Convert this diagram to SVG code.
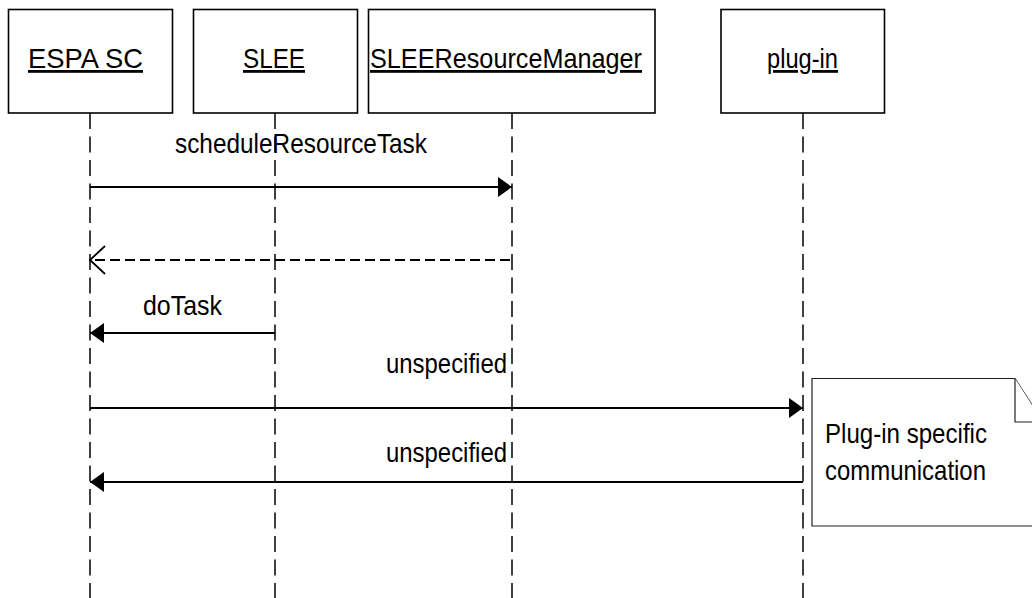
<svg xmlns="http://www.w3.org/2000/svg" width="1032" height="598" viewBox="0 0 1032 598">
<style>
.box{fill:#fff;stroke:#000;stroke-width:1.6}
.life{stroke:#000;stroke-width:1.5;stroke-dasharray:16 7.5;fill:none}
.msg{stroke:#000;stroke-width:2;fill:none}
.ret{stroke:#000;stroke-width:1.8;fill:none;stroke-dasharray:10 5}
.t{font-family:"Liberation Sans Narrow","Liberation Sans",Arial,sans-serif;font-size:28px;fill:#000}
.u{text-decoration:underline}
.note{fill:#fff;stroke:#222;stroke-width:1.2}
</style>
<defs>
<marker id="fill" markerUnits="userSpaceOnUse" markerWidth="16" markerHeight="22" refX="14" refY="10" orient="auto" overflow="visible">
<path d="M0,0 L14,10 L0,20 z" fill="#000"/>
</marker>
<marker id="open" markerUnits="userSpaceOnUse" markerWidth="18" markerHeight="32" refX="15" refY="14" orient="auto" overflow="visible">
<path d="M0,0 L15,14 L0,28" fill="none" stroke="#000" stroke-width="1.8"/>
</marker>
</defs>
<g id="lifelines">
<line class="life" x1="90" y1="113" x2="90" y2="598"/>
<line class="life" x1="275" y1="113" x2="275" y2="598"/>
<line class="life" x1="512" y1="113" x2="512" y2="598"/>
<line class="life" x1="803" y1="113" x2="803" y2="598"/>
</g>
<g id="node-espa">
<rect class="box" x="8.5" y="9.5" width="164" height="103.5"/>
<text class="t u" x="28" y="68" textLength="115" lengthAdjust="spacingAndGlyphs">ESPA SC</text>
</g>
<g id="node-slee">
<rect class="box" x="193.5" y="9.5" width="164" height="103.5"/>
<text class="t u" x="243" y="68" textLength="62" lengthAdjust="spacingAndGlyphs">SLEE</text>
</g>
<g id="node-srm">
<rect class="box" x="368.5" y="9.5" width="286.5" height="103.5"/>
<text class="t u" x="370" y="68" textLength="272" lengthAdjust="spacingAndGlyphs">SLEEResourceManager</text>
</g>
<g id="node-plugin">
<rect class="box" x="721" y="9.5" width="163.5" height="103.5"/>
<text class="t u" x="767" y="68" textLength="71" lengthAdjust="spacingAndGlyphs">plug-in</text>
</g>
<g id="connectors">
<line class="msg" x1="90" y1="187" x2="512" y2="187" marker-end="url(#fill)"/>
<text class="t" x="175" y="153" textLength="252" lengthAdjust="spacingAndGlyphs">scheduleResourceTask</text>
<line class="ret" x1="510" y1="260" x2="90" y2="260" marker-end="url(#open)"/>
<line class="msg" x1="275" y1="333" x2="90" y2="333" marker-end="url(#fill)"/>
<text class="t" x="143" y="315" textLength="79" lengthAdjust="spacingAndGlyphs">doTask</text>
<line class="msg" x1="90" y1="408" x2="803" y2="408" marker-end="url(#fill)"/>
<text class="t" x="386" y="373" textLength="121" lengthAdjust="spacingAndGlyphs">unspecified</text>
<line class="msg" x1="803" y1="482" x2="90" y2="482" marker-end="url(#fill)"/>
<text class="t" x="386" y="462" textLength="121" lengthAdjust="spacingAndGlyphs">unspecified</text>
</g>
<g id="note">
<path class="note" d="M812,378.5 L1015,378.5 L1043,422 L1043,526 L812,526 Z"/>
<path class="note" d="M1015,378.5 L1015,422 L1043,422"/>
<text class="t" x="825" y="443" textLength="162" lengthAdjust="spacingAndGlyphs">Plug-in specific</text>
<text class="t" x="825" y="480" textLength="161" lengthAdjust="spacingAndGlyphs">communication</text>
</g>
</svg>
